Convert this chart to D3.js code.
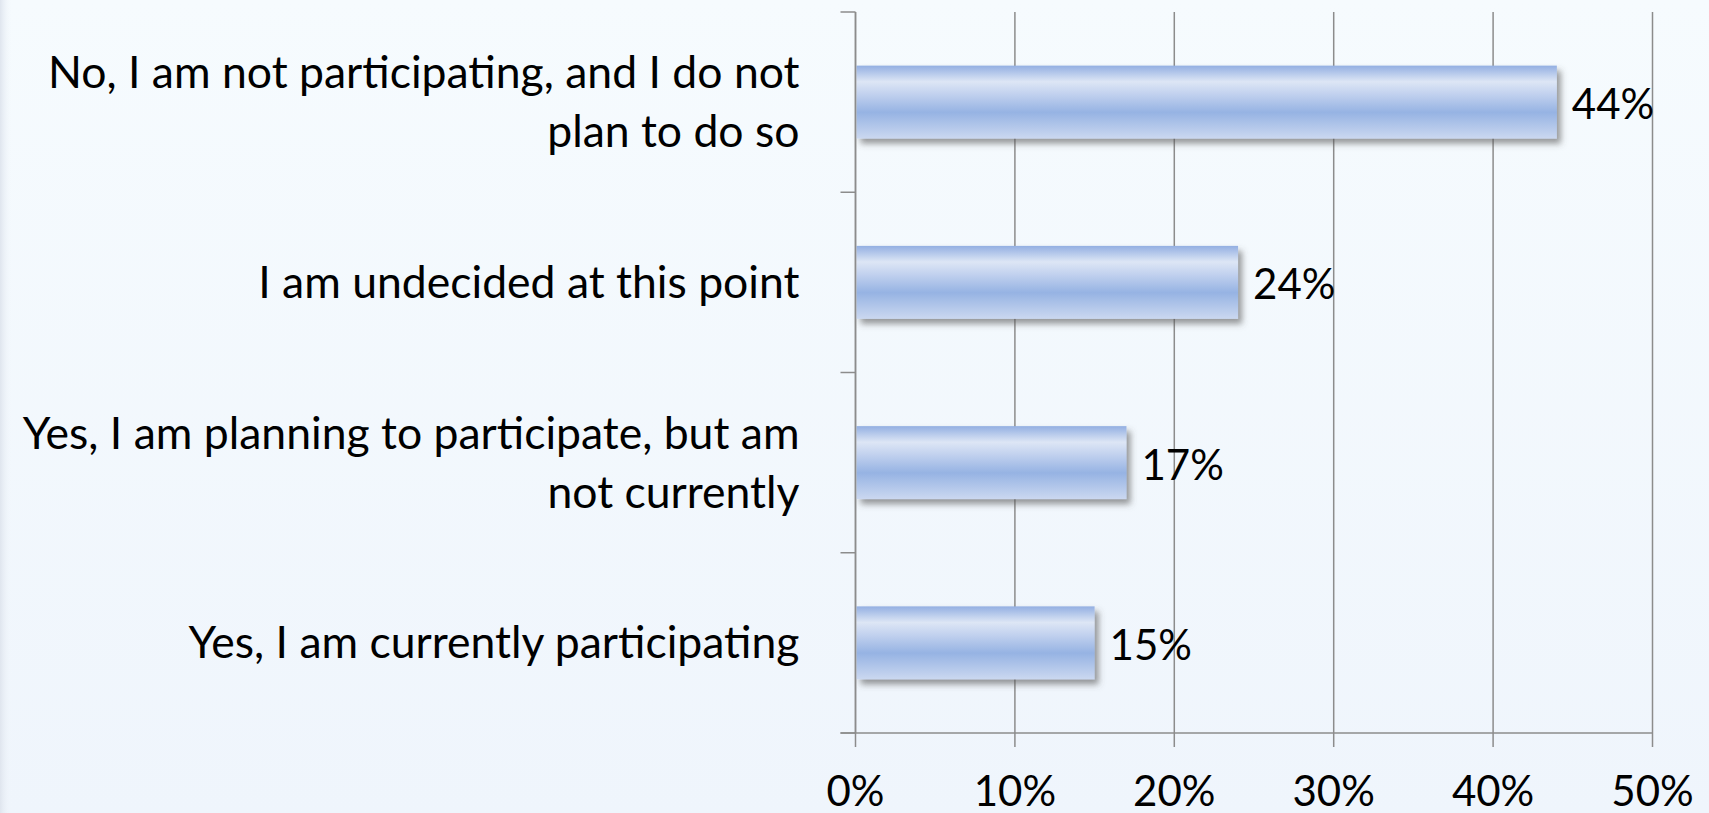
<!DOCTYPE html>
<html>
<head>
<meta charset="utf-8">
<script src="https://cdn.jsdelivr.net/npm/d3@7"></script>
<style>
html,body{margin:0;padding:0;overflow:hidden;}
body{width:1709px;height:813px;}
</style>
</head>
<body>
<script>
const categories = [
  ["No, I am not participating, and I do not", "plan to do so"],
  ["I am undecided at this point"],
  ["Yes, I am planning to participate, but am", "not currently"],
  ["Yes, I am currently participating"]
];
const values = [44, 24, 17, 15];
const valueLabels = ["44%", "24%", "17%", "15%"];
const tickValues = [0, 10, 20, 30, 40, 50];
const tickLabels = ["0%", "10%", "20%", "30%", "40%", "50%"];

const W = 1709, H = 813;
const m = {left: 855.5, right: W - 1652.5, top: 12, bottom: H - 733};
const FONT = "Lato, 'Open Sans', sans-serif";

const svg = d3.select("body").append("svg").attr("width", W).attr("height", H);
const defs = svg.append("defs");

const bg = defs.append("linearGradient").attr("id", "bg").attr("x1", 0).attr("y1", 0).attr("x2", 0).attr("y2", 1);
bg.append("stop").attr("offset", "0%").attr("stop-color", "#f6fbfe");
bg.append("stop").attr("offset", "100%").attr("stop-color", "#eff5fc");

const bl = defs.append("linearGradient").attr("id", "edge").attr("x1", 0).attr("y1", 0).attr("x2", 1).attr("y2", 0);
bl.append("stop").attr("offset", "0%").attr("stop-color", "#dfe5ee");
bl.append("stop").attr("offset", "100%").attr("stop-color", "#f3f8fd").attr("stop-opacity", 0);

const bar = defs.append("linearGradient").attr("id", "bar").attr("x1", 0).attr("y1", 0).attr("x2", 0).attr("y2", 1);
[["0%", "#93afe2"], ["22%", "#dde6f5"], ["40%", "#c0d0ee"], ["64%", "#96b3e3"], ["100%", "#cbd8f0"]]
  .forEach(([o, c]) => bar.append("stop").attr("offset", o).attr("stop-color", c));

const sh = defs.append("filter").attr("id", "shadow").attr("x", "-10%").attr("y", "-20%").attr("width", "130%").attr("height", "160%");
sh.append("feDropShadow").attr("dx", 4).attr("dy", 5).attr("stdDeviation", 3)
  .attr("flood-color", "#555").attr("flood-opacity", 0.6);

svg.append("rect").attr("width", W).attr("height", H).attr("fill", "url(#bg)");
svg.append("rect").attr("width", 12).attr("height", H).attr("fill", "url(#edge)");

const x = d3.scaleLinear().domain([0, 50]).range([m.left, W - m.right]);
const y = d3.scaleBand().domain(d3.range(categories.length)).range([m.top, H - m.bottom]).paddingInner(0.595).paddingOuter(0.2975);
const yStep = y.step();

const axisColor = "#8c8c8c";

// gridlines + x ticks
svg.append("g").selectAll("line").data(tickValues).join("line")
  .attr("x1", d => x(d)).attr("x2", d => x(d))
  .attr("y1", m.top).attr("y2", H - m.bottom + 14)
  .attr("stroke", axisColor).attr("stroke-width", 1.5);

// y-axis ticks at band boundaries
const bounds = d3.range(categories.length + 1).map(i => m.top + i * yStep);
svg.append("g").selectAll("line").data(bounds).join("line")
  .attr("x1", m.left - 15).attr("x2", m.left)
  .attr("y1", d => d).attr("y2", d => d)
  .attr("stroke", axisColor).attr("stroke-width", 1.5);

// x axis baseline
svg.append("line").attr("x1", m.left - 15).attr("x2", W - m.right)
  .attr("y1", H - m.bottom).attr("y2", H - m.bottom)
  .attr("stroke", axisColor).attr("stroke-width", 1.5);

// bars
svg.append("g").selectAll("rect").data(values).join("rect")
  .attr("x", x(0) + 1).attr("y", (d, i) => y(i))
  .attr("width", d => x(d) - x(0) - 1).attr("height", y.bandwidth())
  .attr("fill", "url(#bar)").attr("filter", "url(#shadow)");

// y-axis line (drawn over bars)
svg.append("line").attr("x1", m.left).attr("x2", m.left)
  .attr("y1", m.top).attr("y2", H - m.bottom)
  .attr("stroke", axisColor).attr("stroke-width", 1.5);

// value labels
svg.append("g").selectAll("text").data(values).join("text")
  .attr("x", d => x(d) + 15).attr("y", (d, i) => y(i) + y.bandwidth() / 2 + 17)
  .attr("font-family", FONT).attr("font-size", 42).attr("fill", "#000")
  .text((d, i) => valueLabels[i]);

// category labels
const lineGap = 59;
const cat = svg.append("g").selectAll("text").data(categories).join("text")
  .attr("text-anchor", "end")
  .attr("font-family", FONT).attr("font-size", 44.5).attr("fill", "#000");
cat.each(function(lines, i) {
  const cy = y(i) + y.bandwidth() / 2;
  const start = cy - (lines.length - 1) * lineGap / 2;
  d3.select(this).selectAll("tspan").data(lines).join("tspan")
    .attr("x", m.left - 56).attr("y", (l, j) => start + j * lineGap + 15.5)
    .text(l => l);
});

// x tick labels
svg.append("g").selectAll("text").data(tickValues).join("text")
  .attr("x", d => x(d)).attr("y", 806)
  .attr("text-anchor", "middle")
  .attr("font-family", FONT).attr("font-size", 42).attr("fill", "#000")
  .text((d, i) => tickLabels[i]);
</script>
</body>
</html>
